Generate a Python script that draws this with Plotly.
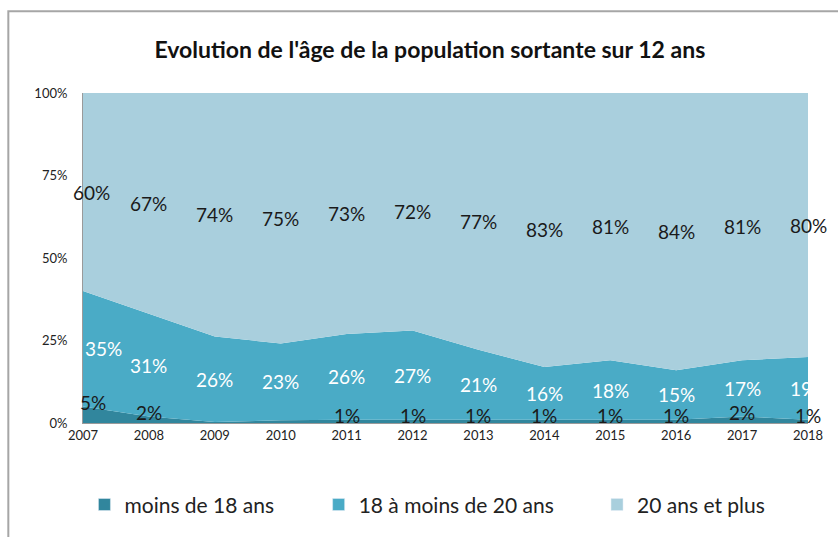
import plotly.graph_objects as go

years = [2007, 2008, 2009, 2010, 2011, 2012, 2013, 2014, 2015, 2016, 2017, 2018]
moins18 = [5, 2, 0.3, 0.8, 1, 1, 1, 1, 1, 1, 2, 1]
moins18_labels = ["5%", "2%", "", "", "1%", "1%", "1%", "1%", "1%", "1%", "2%", "1%"]
de18a20 = [35, 31, 26, 23, 26, 27, 21, 16, 18, 15, 17, 19]
plus20 = [60, 67, 74, 75, 73, 72, 77, 83, 81, 84, 81, 80]
series_names = ["moins de 18 ans", "18 à moins de 20 ans", "20 ans et plus"]
colors = ["#31869d", "#4aabc6", "#a9cfdd"]
y_ticks = [0, 25, 50, 75, 100]
y_tick_labels = ["0%", "25%", "50%", "75%", "100%"]

FONT = "Lato"
LBL = 19

fig = go.Figure()
for name, vals, col in zip(series_names, [moins18, de18a20, plus20], colors):
    fig.add_trace(go.Scatter(
        x=years, y=vals, name=name, mode="lines",
        stackgroup="one", groupnorm="percent",
        line=dict(width=0, color=col), fillcolor=col,
        hoverinfo="x+y+name", showlegend=False,
    ))

# legend proxies (square swatches), one legend per entry to control spacing
legend_ids = ["legend", "legend2", "legend3"]
for name, col, lid in zip(series_names, colors, legend_ids):
    fig.add_trace(go.Bar(x=[None], y=[None], name=name, marker=dict(color=col),
                         legend=lid, showlegend=True, hoverinfo="skip"))

annotations = []
for i, yr in enumerate(years):
    tot = moins18[i] + de18a20[i] + plus20[i]
    a = moins18[i] / tot * 100
    b = de18a20[i] / tot * 100
    first = (i == 0)
    if moins18_labels[i]:
        annotations.append(dict(x=yr, y=a + 1.2, text=moins18_labels[i], showarrow=False,
                                xshift=10 if first else 0,
                                font=dict(family=FONT, size=LBL, color="#1a1a1a"), yanchor="middle"))
    annotations.append(dict(x=yr, y=a + b / 2, text=f"{de18a20[i]}%", showarrow=False,
                            xanchor="left" if first else "center",
                            font=dict(family=FONT, size=LBL, color="white"), yanchor="middle"))
    annotations.append(dict(x=yr, y=a + b + (100 - a - b) / 2, text=f"{plus20[i]}%", showarrow=False,
                            xshift=8 if first else 0,
                            font=dict(family=FONT, size=LBL, color="#1a1a1a"), yanchor="middle"))

leg_common = dict(orientation="h", yanchor="middle", xanchor="left", y=-0.248,
                  font=dict(family=FONT, size=21, color="#222"), itemwidth=30,
                  bgcolor="rgba(0,0,0,0)")

fig.update_layout(
    width=838, height=537,
    margin=dict(l=83, r=30, t=93, b=114, autoexpand=False),
    paper_bgcolor="white", plot_bgcolor="white",
    title=dict(text="<b>Evolution de l'âge de la population sortante sur 12 ans</b>",
               x=0.513, xanchor="center", y=0.907, yanchor="middle",
               font=dict(family=FONT, size=23, color="#111")),
    xaxis=dict(range=[2007, 2018], tickmode="array", tickvals=years,
               ticktext=[str(y) for y in years], showgrid=False, zeroline=False,
               showline=True, linecolor="#9a9a9a", linewidth=1, ticks="",
               tickfont=dict(family=FONT, size=13, color="#222")),
    yaxis=dict(range=[0, 100], tickmode="array", tickvals=y_ticks, ticktext=y_tick_labels,
               showgrid=False, zeroline=False, showline=True, linecolor="#9a9a9a",
               linewidth=1, ticks="", ticklabelstandoff=12,
               tickfont=dict(family=FONT, size=13, color="#222")),
    legend=dict(x=0.002, **leg_common),
    legend2=dict(x=0.325, **leg_common),
    legend3=dict(x=0.709, **leg_common),
    annotations=annotations,
    shapes=[dict(type="rect", xref="paper", yref="paper",
                 x0=-0.103, x1=1.2, y0=-0.5, y1=1.248,
                 line=dict(color="#a6a6a6", width=2), fillcolor="rgba(0,0,0,0)", layer="below")],
)

fig.write_html("out.html", config={"displayModeBar": False},
               post_script="document.body.style.margin='0';document.body.style.padding='0';")
